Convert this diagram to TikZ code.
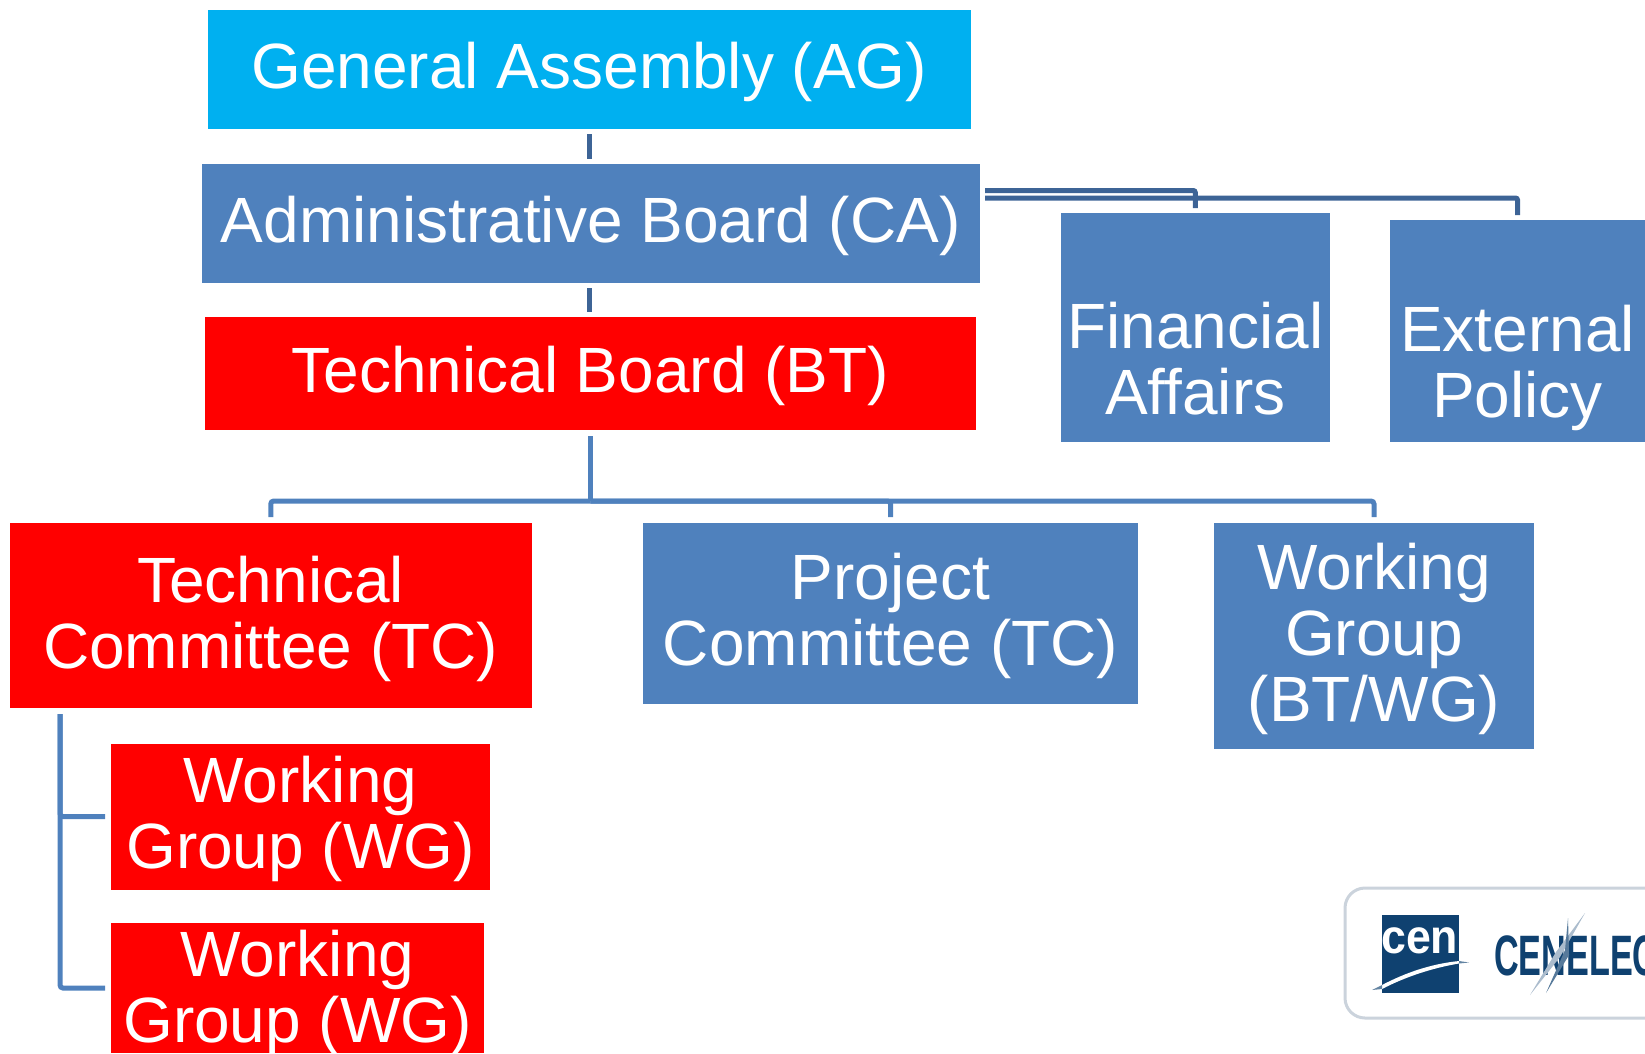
\documentclass[tikz,border=0pt]{standalone}
\usepackage{fontspec}
\usepackage{graphicx}
\setmainfont{Liberation Sans}
\definecolor{cblue}{HTML}{4F81BD}
\definecolor{cdark}{HTML}{3D6496}
\definecolor{ccyan}{HTML}{00B0F0}
\definecolor{cred}{HTML}{FF0000}
\definecolor{cnavy}{HTML}{0F4170}
\definecolor{cframe}{HTML}{CBD3DC}
\tikzset{
  orgbox/.style={rectangle,inner sep=0pt,outer sep=0pt,align=center,text=white,
    font=\fontsize{64}{66}\selectfont},
  lineblue/.style={draw=cblue,line width=5pt,rounded corners=3pt},
  linedark/.style={draw=cdark,line width=5pt,rounded corners=2pt},
  gap/.style={shorten <=5pt,shorten >=5pt},
}
% name, x1, y1, x2, y2, fill, last-line baseline y, text
\newcommand\orgbx[8]{%
  \pgfmathsetmacro\bxw{#4-#2}\pgfmathsetmacro\bxh{#5-#3}%
  \pgfmathsetmacro\bxcx{(#2+#4)/2}\pgfmathsetmacro\bxcy{(#3+#5)/2}%
  \pgfmathsetmacro\bxd{#5-#7}\pgfmathsetmacro\bxu{#7-#3}%
  \node[orgbox,fill=#6,minimum width=\bxw pt,minimum height=\bxh pt,
    text height=\bxu pt,text depth=\bxd pt] (#1) at (\bxcx,\bxcy) {#8};}
\begin{document}
\begin{tikzpicture}[x=1pt,y=-1pt]
\useasboundingbox (0,0) rectangle (1645,1053);
\orgbx{ag}{208}{9.5}{970.5}{129}{ccyan}{88}{General Assembly (AG)}
\orgbx{ca}{201.5}{164}{980}{283}{cblue}{242}{Administrative Board (CA)}
\orgbx{bt}{204.5}{316.5}{976}{430}{cred}{392}{Technical Board (BT)}
\orgbx{fin}{1060.5}{213}{1330}{442}{cblue}{414}{Financial\\Affairs}
\orgbx{ext}{1390}{220}{1645}{442}{cblue}{417}{External\\Policy}
\orgbx{tc}{9.5}{523}{532}{708}{cred}{668}{Technical\\Committee (TC)}
\orgbx{pc}{643}{523}{1138}{704}{cblue}{665.5}{Project\\Committee (TC)}
\orgbx{bw}{1214}{523}{1534}{749}{cblue}{721.5}{Working\\Group\\(BT/WG)}
\orgbx{wga}{111}{743.5}{490}{889.5}{cred}{868}{Working\\Group (WG)}
\orgbx{wgb}{111}{923}{484}{1053}{cred}{1042}{Working\\Group (WG)}
% connectors
\draw[linedark,gap] (ag.south) -- (ag.south |- ca.north);
\draw[linedark,gap] (ca.south -| ag.south) -- (ag.south |- bt.north);
\coordinate (caf) at (ca.east |- 0,190.5);
\coordinate (cae) at (ca.east |- 0,198);
\draw[linedark,gap] (caf) -| (fin.north);
\draw[linedark,gap] (cae) -| (ext.north);
\coordinate (busbt) at (bt.south |- 0,501);
\draw[lineblue,shorten <=6pt] (bt.south) -- (busbt);
\draw[lineblue,shorten >=6pt] (busbt) -| (tc.north);
\draw[lineblue,shorten >=6pt] (busbt) -| (pc.north);
\draw[lineblue,shorten >=6pt] (busbt) -| (bw.north);
\coordinate (bustc) at (60,708);
\draw[lineblue,shorten <=6pt,shorten >=6pt] (bustc) |- (wga.west);
\draw[lineblue,shorten <=6pt,shorten >=6pt] (bustc) |- (wgb.west);
% logo
\begin{scope}
\clip (0,0) rectangle (1645,1053);
\draw[cframe,line width=3pt,rounded corners=20pt,fill=white] (1345,888) rectangle (1720,1018);
\fill[cnavy] (1382,915) rectangle (1459,993);
\node[anchor=base west,inner sep=0pt,text=white,font=\bfseries\fontsize{48}{48}\selectfont] (cen) at (1381,953) {\scalebox{0.93}[1]{cen}};
\fill[white] (1382,985) .. controls (1405,973) and (1430,964) .. (1459,961) -- (1459,963.5) .. controls (1432,968) and (1405,977) .. (1382,989) -- cycle;
\fill[cnavy!65] (1372,990) -- (1382,985) -- (1382,989) -- cycle;
\fill[cnavy!65] (1459,961) -- (1469,962.5) -- (1459,963.5) -- cycle;
\node[anchor=base west,inner sep=0pt,text=cnavy,font=\bfseries\fontsize{57}{57}\selectfont] (cenelec) at (1494,975) {\scalebox{0.6}[1]{CENELEC}};
\fill[cnavy!35] (1585,913) -- (1560,957) -- (1530,995) -- (1556,952) -- cycle;
\fill[cnavy!70] (1568,918) -- (1569,955) -- (1546,993) -- (1565,950) -- cycle;
\end{scope}
\end{tikzpicture}
\end{document}
